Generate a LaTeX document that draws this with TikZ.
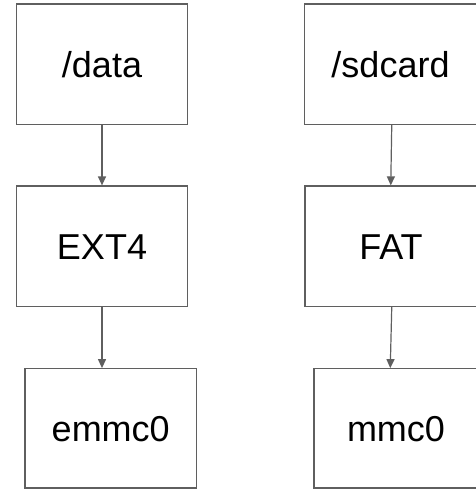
\documentclass[tikz,border=0pt]{standalone}
\usepackage{fontspec}
\setmainfont{Liberation Sans}
\usetikzlibrary{arrows.meta}
\definecolor{linegray}{HTML}{5F5F5F}
\tikzset{
  box/.style={draw=linegray, line width=1.2pt, rectangle, inner sep=0pt,
    text height=26pt, text depth=0pt, font=\fontsize{36}{40}\selectfont},
  arr/.style={draw=linegray, line width=1.2pt, -{Triangle[length=9pt,width=8pt]}}
}
\begin{document}
\begin{tikzpicture}[x=1pt,y=-1pt]
\useasboundingbox (0,0) rectangle (475,489);
% left column
\node[box, minimum width=171pt, minimum height=120.5pt] (data) at (102,64.25) {/data};
\node[box, minimum width=171pt, minimum height=120.5pt] (ext4) at (102,246.25) {EXT4};
\node[box, minimum width=171.5pt, minimum height=119.3pt] (emmc) at (110.75,428.35) {emmc0};
% right column
\node[box, minimum width=172pt, minimum height=120.5pt] (sdcard) at (390.5,64.25) {/sdcard};
\node[box, minimum width=172pt, minimum height=120.5pt] (fat) at (391,246.25) {FAT};
\node[box, minimum width=164pt, minimum height=119.3pt] (mmc) at (396,428.35) {mmc0};
% connectors
\draw[arr] (data.south) -- (ext4.north);
\draw[arr] ([xshift=-8.75pt]ext4.south -| emmc.north) -- ([xshift=-8.75pt]emmc.north);
\draw[arr] ([xshift=1.25pt]sdcard.south) -- ([xshift=-0.25pt]fat.north);
\draw[arr] ([xshift=0.75pt]fat.south) -- ([xshift=-5.75pt]mmc.north);
\end{tikzpicture}
\end{document}
